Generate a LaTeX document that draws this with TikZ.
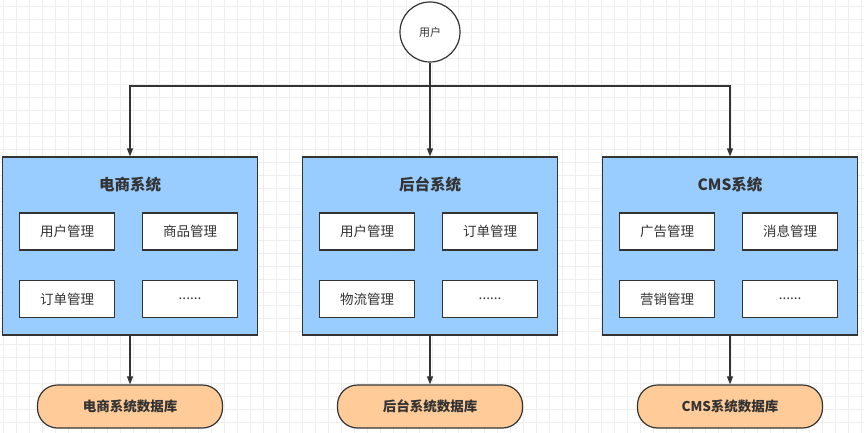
\documentclass[tikz,border=0pt]{standalone}
\usepackage{fontspec}
\setmainfont{Noto Sans CJK SC}
\usetikzlibrary{arrows.meta}
\definecolor{sysblue}{HTML}{99CCFF}
\definecolor{dbpeach}{HTML}{FFCC99}
\definecolor{linegray}{HTML}{333333}
\definecolor{gridgray}{HTML}{EEEEEE}
\tikzset{
  sysbox/.style={draw=linegray, line width=1.2pt, fill=sysblue, minimum width=255pt, minimum height=178pt, inner sep=0pt},
  systitle/.style={font=\bfseries\fontsize{15.5}{18}\selectfont, text=linegray},
  modbox/.style={draw=linegray, line width=1.2pt, fill=white, minimum width=95pt, minimum height=37pt, inner sep=0pt, font=\fontsize{13.5}{16}\selectfont, text=linegray},
  dbbox/.style={draw=linegray, line width=1.2pt, fill=dbpeach, rounded corners=20pt, minimum width=185pt, minimum height=43pt, inner sep=0pt, font=\bfseries\fontsize{13.5}{16}\selectfont, text=linegray},
  link/.style={draw=linegray, line width=1.2pt, -{Triangle[length=8pt,width=6pt]}}
}
\begin{document}
\begin{tikzpicture}[x=1pt, y=-1pt]
    \useasboundingbox (0,0) rectangle (864,433);
    % background grid
    \foreach \gx in {3,16,...,864} \draw[gridgray, line width=0.8pt] (\gx,0) -- (\gx,433);
    \foreach \gy in {6,19,...,433} \draw[gridgray, line width=0.8pt] (0,\gy) -- (864,\gy);

    \node[draw=linegray, line width=1.2pt, fill=white, circle, minimum size=60pt, inner sep=0pt,
          font=\fontsize{11}{13}\selectfont, text=linegray] (user) at (430,32) {用户};
    \coordinate (hub) at (430,86);

    % three systems with their modules and databases
    \foreach \i/\cx/\title/\ma/\mb/\mc/\db in {
        1/130/电商系统/用户管理/商品管理/订单管理/电商系统数据库,
        2/430/后台系统/用户管理/订单管理/物流管理/后台系统数据库,
        3/730/CMS系统/广告管理/消息管理/营销管理/CMS系统数据库} {
        \node[sysbox] (sys\i) at (\cx,246) {};
        \node[systitle] (title\i) at (\cx,185) {\title};
        \node[modbox] (ma\i) at (\cx-63,231.5) {\ma};
        \node[modbox] (mb\i) at (\cx+60,231.5) {\mb};
        \node[modbox] (mc\i) at (\cx-63,299) {\mc};
        \node[modbox] (md\i) at (\cx+60,299) {......};
        \node[dbbox] (db\i) at (\cx,406.5) {\db};
        \draw[link] (sys\i) -- (db\i);
    }

    \draw[draw=linegray, line width=1.2pt] (user) -- (hub);
    \draw[link] (hub) -- (sys2);
    \draw[link] (hub) -| (sys1.north);
    \draw[link] (hub) -| (sys3.north);
\end{tikzpicture}
\end{document}
